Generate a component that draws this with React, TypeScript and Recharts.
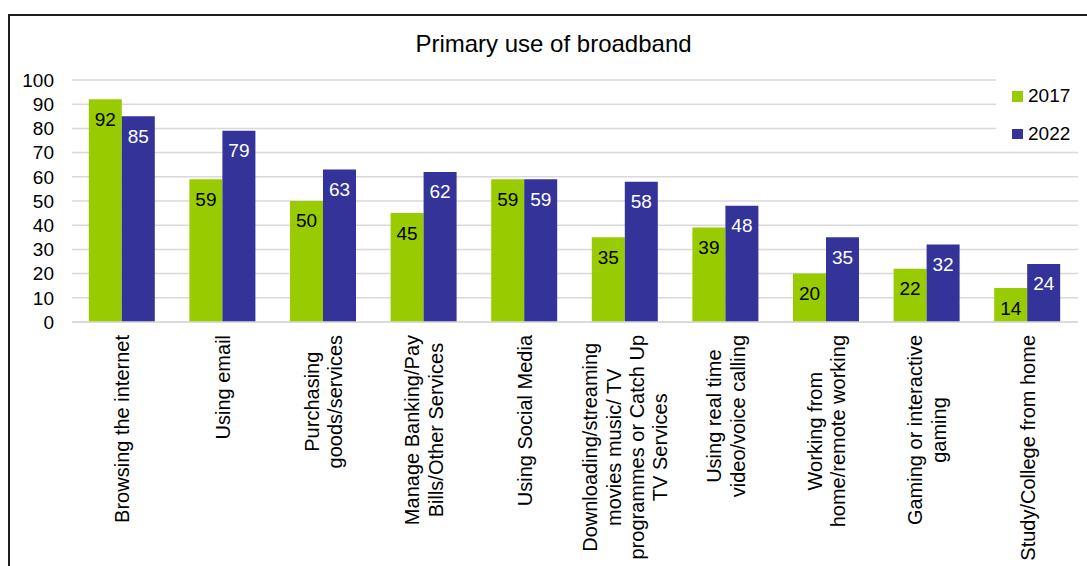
import React from 'react';
import { BarChart, Bar, XAxis, YAxis, CartesianGrid, LabelList, Legend } from 'recharts';

const categories: string[] = [
  'Browsing the internet',
  'Using email',
  'Purchasing\ngoods/services',
  'Manage Banking/Pay\nBills/Other Services',
  'Using Social Media',
  'Downloading/streaming\nmovies music/ TV\nprogrammes or Catch Up\nTV Services',
  'Using real time\nvideo/voice calling',
  'Working from\nhome/remote working',
  'Gaming or interactive\ngaming',
  'Study/College from home',
];
const values2017: number[] = [92, 59, 50, 45, 59, 35, 39, 20, 22, 14];
const values2022: number[] = [85, 79, 63, 62, 59, 58, 48, 35, 32, 24];
const yTicks: number[] = [0, 10, 20, 30, 40, 50, 60, 70, 80, 90, 100];
const seriesNames: string[] = ['2017', '2022'];
const chartTitle = 'Primary use of broadband';

const data = categories.map((c, i) => ({ cat: c, y2017: values2017[i], y2022: values2022[i] }));

const FONT = "'Liberation Sans', Arial, sans-serif";
const GREEN = '#99CC00';
const BLUE = '#333399';

let measureCtx: CanvasRenderingContext2D | null = null;
function measure(text: string, font: string): number {
  if (!measureCtx) {
    const c = document.createElement('canvas');
    measureCtx = c.getContext('2d');
  }
  if (!measureCtx) return text.length * 10;
  measureCtx.font = font;
  return measureCtx.measureText(text).width;
}

const XTick = (props: any) => {
  const { x, y, payload } = props;
  const lines: string[] = String(payload.value).split('\n');
  const fs = 20;
  const lineH = 23.3;
  const maxLen = Math.max(...lines.map((l) => measure(l, `${fs}px 'Liberation Sans'`)));
  const n = lines.length;
  return (
    <g transform={`translate(${x},${y}) rotate(-90)`}>
      {lines.map((l, i) => (
        <text
          key={i}
          x={-maxLen / 2}
          y={(i - (n - 1) / 2) * lineH}
          textAnchor="middle"
          dominantBaseline="central"
          fontSize={fs}
          fontFamily={FONT}
          fill="#000"
        >
          {l}
        </text>
      ))}
    </g>
  );
};

const LegendContent = () => (
  <div style={{ position: 'relative', width: 91, height: 70, background: '#fff', fontFamily: FONT }}>
    {seriesNames.map((name, i) => (
      <React.Fragment key={name}>
        <div
          style={{
            position: 'absolute',
            left: 16,
            top: 19 + i * 37.5,
            width: 10.5,
            height: 10.5,
            background: i === 0 ? GREEN : BLUE,
          }}
        />
        <div
          style={{
            position: 'absolute',
            left: 32,
            top: 12 + i * 37.5,
            fontSize: 19,
            lineHeight: '23px',
            color: '#000',
            whiteSpace: 'nowrap',
          }}
        >
          {name}
        </div>
      </React.Fragment>
    ))}
  </div>
);

export default function App() {
  return (
    <div style={{ position: 'absolute', left: 0, top: 0, width: 1087, height: 566, overflow: 'hidden', background: '#fff' }}>
      <div
        style={{
          position: 'absolute',
          left: 8,
          top: 14,
          width: 2000,
          height: 2000,
          borderLeft: '2px solid #1e1e1e',
          borderTop: '2px solid #1e1e1e',
        }}
      />
      <svg style={{ position: 'absolute', left: 0, top: 0 }} width={1087} height={566}>
        <text x={553.5} y={52} textAnchor="middle" fontSize={24} fontFamily={FONT} fill="#000">
          {chartTitle}
        </text>
      </svg>
      <div style={{ position: 'absolute', left: 0, top: 0 }}>
        <BarChart
          width={1087}
          height={566}
          data={data}
          margin={{ top: 80, right: 9, left: 0, bottom: 0 }}
          barCategoryGap="16.7%"
          barGap={0}
        >
          <CartesianGrid horizontal={true} vertical={false} stroke="#d9d9d9" strokeWidth={1.5} />
          <XAxis
            dataKey="cat"
            height={244}
            interval={0}
            tickLine={false}
            tickSize={0}
            tickMargin={13}
            axisLine={{ stroke: '#d9d9d9', strokeWidth: 1.5 }}
            tick={<XTick />}
          />
          <YAxis
            width={72}
            domain={[0, 100]}
            ticks={yTicks}
            interval={0}
            axisLine={false}
            tickLine={false}
            tickSize={0}
            tickMargin={18}
            tick={{ fontSize: 19, fontFamily: FONT, fill: '#000' }}
          />
          <Legend
            content={<LegendContent />}
            verticalAlign="top"
            wrapperStyle={{ left: 996, top: 72, width: 91, height: 0, overflow: 'visible' }}
          />
          <Bar dataKey="y2017" name={seriesNames[0]} fill={GREEN} isAnimationActive={false}>
            <LabelList dataKey="y2017" position="insideTop" offset={13} fill="#000" fontSize={19} fontFamily={FONT} />
          </Bar>
          <Bar dataKey="y2022" name={seriesNames[1]} fill={BLUE} isAnimationActive={false}>
            <LabelList dataKey="y2022" position="insideTop" offset={13} fill="#fff" fontSize={19} fontFamily={FONT} />
          </Bar>
        </BarChart>
      </div>
    </div>
  );
}
